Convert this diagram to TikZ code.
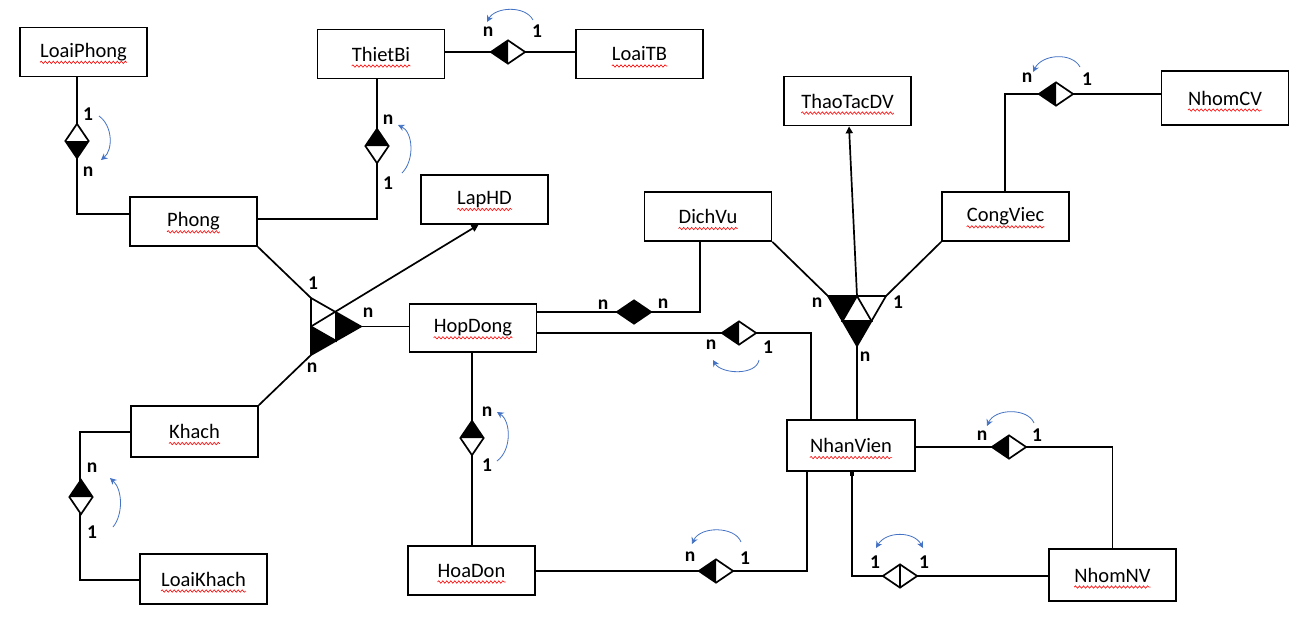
\documentclass[tikz,border=0pt]{standalone}
\usepackage{fontspec}
\setmainfont{Carlito}
\usetikzlibrary{shapes.geometric,arrows.meta,decorations.pathmorphing}
\definecolor{loopblue}{HTML}{4472C4}

\tikzset{
  entity/.style={draw, line width=1.7pt, minimum width=127pt, minimum height=49pt, inner sep=0pt},
  etext/.style={inner sep=0pt, font=\fontsize{20.5}{24}\selectfont},
  squig/.style={red, line width=0.6pt, decorate, decoration={snake, amplitude=1.2pt, segment length=4pt}},
  conn/.style={line width=1.7pt},
  card/.style={inner sep=0pt, font=\fontsize{19.5}{22}\selectfont\bfseries},
  rel/.style={diamond, draw, line width=1.7pt, fill=white, inner sep=0pt, minimum width=35pt, minimum height=24pt},
  vrel/.style={rel, minimum width=24pt, minimum height=35pt},
  leftblack/.style={path picture={\fill[black] (path picture bounding box.north) -- (path picture bounding box.west) -- (path picture bounding box.south) -- cycle;}},
  topblack/.style={path picture={\fill[black] (path picture bounding box.west) -- (path picture bounding box.north) -- (path picture bounding box.east) -- cycle;}},
  bottomblack/.style={path picture={\fill[black] (path picture bounding box.west) -- (path picture bounding box.south) -- (path picture bounding box.east) -- cycle;}},
  splitwhite/.style={path picture={\draw[black, line width=1.7pt] (path picture bounding box.north) -- (path picture bounding box.south);}},
  loop/.style={loopblue, line width=0.8pt, -{Stealth[length=6.5pt,width=6.5pt]}},
  dloop/.style={loopblue, line width=0.8pt, {Stealth[length=6.5pt,width=6.5pt]}-{Stealth[length=6.5pt,width=6.5pt]}},
  tri/.style={line width=1.7pt, line join=miter},
  refarrow/.style={line width=1.7pt, -{Triangle[length=7pt,width=7pt]}},
}

% entity box with its name and the red spell-check wave under the name
\newcommand\entbox[4][]{%
  \node[entity,#1] (#2) at (#3) {};
  \node[etext] (#2-t) at (#2) {#4};
  \draw[squig] ([yshift=-5pt]#2-t.base west) -- ([yshift=-5pt]#2-t.base east);
}

\begin{document}
\begin{tikzpicture}[x=1pt, y=-1pt]
\useasboundingbox[fill=white] (0,0) rectangle (1309,625);

% ---------- entities ----------
\entbox{LoaiPhong}{83.5,52}{LoaiPhong}
\entbox{ThietBi}{381,54}{ThietBi}
\entbox{LoaiTB}{639.5,54}{LoaiTB}
\entbox{ThaoTacDV}{847.5,101}{ThaoTacDV}
\entbox[minimum height=54pt]{NhomCV}{1225,98}{NhomCV}
\entbox{LapHD}{484.5,199.5}{LapHD}
\entbox{Phong}{193.5,221.5}{Phong}
\entbox{DichVu}{708,216.5}{DichVu}
\entbox{CongViec}{1005.5,216.5}{CongViec}
\entbox[minimum height=48pt]{HopDong}{473,328}{HopDong}
\entbox[minimum height=51pt]{Khach}{194.5,431.5}{Khach}
\entbox[minimum width=128pt, minimum height=51pt]{NhanVien}{851,445.5}{NhanVien}
\entbox{HoaDon}{471.5,570.5}{HoaDon}
\entbox[minimum height=50pt]{LoaiKhach}{203.5,579}{LoaiKhach}
\entbox[minimum height=52pt]{NhomNV}{1112.5,575}{NhomNV}

% ---------- binary connectors ----------
\draw[conn] (LoaiPhong.south -| 77,0) |- (Phong.west |- 0,214);
\draw[conn] (Phong.east |- 0,219) -| (ThietBi.south -| 377,0);
\draw[conn] (ThietBi.east |- 0,52) -- (LoaiTB.west |- 0,52);
\draw[conn] (CongViec.north -| 1005,0) |- (NhomCV.west |- 0,94);
\draw[conn] (HopDong.east |- 0,312) -| (DichVu.south -| 700,0);
\draw[conn] (HopDong.east |- 0,333) -| (NhanVien.north -| 811,0);
\draw[conn] (HopDong.south -| 472,0) -- (HoaDon.north -| 472,0);
\draw[conn] (HoaDon.east |- 0,571) -| (NhanVien.south -| 807,0);
\draw[conn] (Khach.west |- 0,432) -- ++(-50,0) |- (LoaiKhach.west |- 0,580);
\draw[conn] (NhanVien.east |- 0,447) -| (NhomNV.north);
\draw[conn] (NhanVien.south -| 852,0) |- (NhomNV.west |- 0,576);
\fill ([xshift=-2pt]NhanVien.south -| 852,0) rectangle ++(4,4);

% ---------- relationship diamonds ----------
\node[vrel, bottomblack] (rLP) at (77,141) {};
\node[vrel, topblack]    (rTB) at (377,146) {};
\node[rel, leftblack]    (rLT) at (508,52) {};
\node[rel, leftblack]    (rCV) at (1056,94) {};
\node[rel, fill=black]   (rDV) at (634,312) {};
\node[rel, leftblack]    (rNV) at (739,333) {};
\node[vrel, topblack]    (rHD) at (472,438) {};
\node[rel, leftblack]    (rHN) at (716,571) {};
\node[vrel, topblack]    (rKH) at (81,497) {};
\node[rel, leftblack]    (rNN) at (1009,447) {};
\node[rel, splitwhite]   (rQL) at (900,576) {};

% ---------- ternary relation: Phong, Khach, HopDong -> LapHD ----------
\coordinate (A) at (311,298);
\coordinate (B) at (311,355);
\coordinate (C) at (361,326.5);
\coordinate (AB) at (311,326.5);
\coordinate (AC) at (336,312.25);
\coordinate (BC) at (336,340.75);
\draw[conn] (Phong.south east) -- (A);
\draw[conn] (Khach.north east) -- (B);
\draw[conn] (HopDong.west |- C) -- (C);
\fill[white] (A) -- (B) -- (C) -- cycle;
\fill (AC) -- (C) -- (BC) -- cycle;
\fill (AB) -- (BC) -- (B) -- cycle;
\draw[tri] (A) -- (B) -- (C) -- cycle;
\draw[tri] (AC) -- (BC) -- (AB);
\draw[refarrow] (AB) -- ([xshift=-6pt]LapHD.south);

% ---------- ternary relation: DichVu, CongViec, NhanVien -> ThaoTacDV ----------
\coordinate (D) at (828,296);
\coordinate (E) at (886,296);
\coordinate (F) at (857,346);
\coordinate (DE) at (857,296);
\coordinate (DF) at (842.5,321);
\coordinate (EF) at (871.5,321);
\draw[conn] (DichVu.south east) -- (D);
\draw[conn] (CongViec.south west) -- (E);
\draw[conn] (F) -- (NhanVien.north -| F);
\fill[white] (D) -- (E) -- (F) -- cycle;
\fill (D) -- (DE) -- (DF) -- cycle;
\fill (DF) -- (EF) -- (F) -- cycle;
\draw[tri] (D) -- (E) -- (F) -- cycle;
\draw[tri] (DE) -- (DF) -- (EF) -- cycle;
\draw[refarrow] (DE) -- ([xshift=1.5pt]ThaoTacDV.south);

% ---------- cardinalities ----------
\node[card] (kLP1) at (88,114) {1};
\node[card] (kLPn) at (88,172) {n};
\node[card] (kTBn) at (388,120) {n};
\node[card] (kTB1) at (388,183) {1};
\node[card] (kLTn) at (488,32) {n};
\node[card] (kLT1) at (537,31) {1};
\node[card] (kCVn) at (1027,78) {n};
\node[card] (kCV1) at (1087,79) {1};
\node[card] (kDVa) at (603,305) {n};
\node[card] (kDVb) at (663,304) {n};
\node[card] (kNVn) at (711,345) {n};
\node[card] (kNV1) at (768,347) {1};
\node[card] (kHDn) at (487,412) {n};
\node[card] (kHD1) at (487,465) {1};
\node[card] (kHNn) at (690,557) {n};
\node[card] (kHN1) at (745,558) {1};
\node[card] (kKHn) at (92,468) {n};
\node[card] (kKH1) at (92,532) {1};
\node[card] (kNNn) at (982,436) {n};
\node[card] (kNN1) at (1037,435) {1};
\node[card] (kQLa) at (875,562) {1};
\node[card] (kQLb) at (924,562) {1};
\node[card] (kT1a) at (313,283) {1};
\node[card] (kT1b) at (368,313) {n};
\node[card] (kT1c) at (312,368) {n};
\node[card] (kT2a) at (817,303) {n};
\node[card] (kT2b) at (898,302) {1};
\node[card] (kT2c) at (865,357) {n};

% ---------- reading-direction curves ----------
\draw[loop] (99,116) .. controls (113,126) and (113,150) .. (101,160);
\draw[loop] (402,173) .. controls (415,160) and (413,132) .. (398,125);
\draw[loop] (533,20) .. controls (525,5) and (495,7) .. (487,22);
\draw[loop] (1080,67) .. controls (1072,52) and (1042,54) .. (1033,72);
\draw[loop] (759,360) .. controls (756,376) and (721,374) .. (713,360);
\draw[loop] (497,461) .. controls (512,450) and (511,421) .. (497,412);
\draw[loop] (741,542) .. controls (735,526) and (700,526) .. (692,544);
\draw[loop] (113,527) .. controls (123,515) and (123,490) .. (110,478);
\draw[loop] (1034,423) .. controls (1028,408) and (995,408) .. (987,426);
\draw[dloop] (876,548) .. controls (886,531) and (914,531) .. (923,548);
\end{tikzpicture}
\end{document}
